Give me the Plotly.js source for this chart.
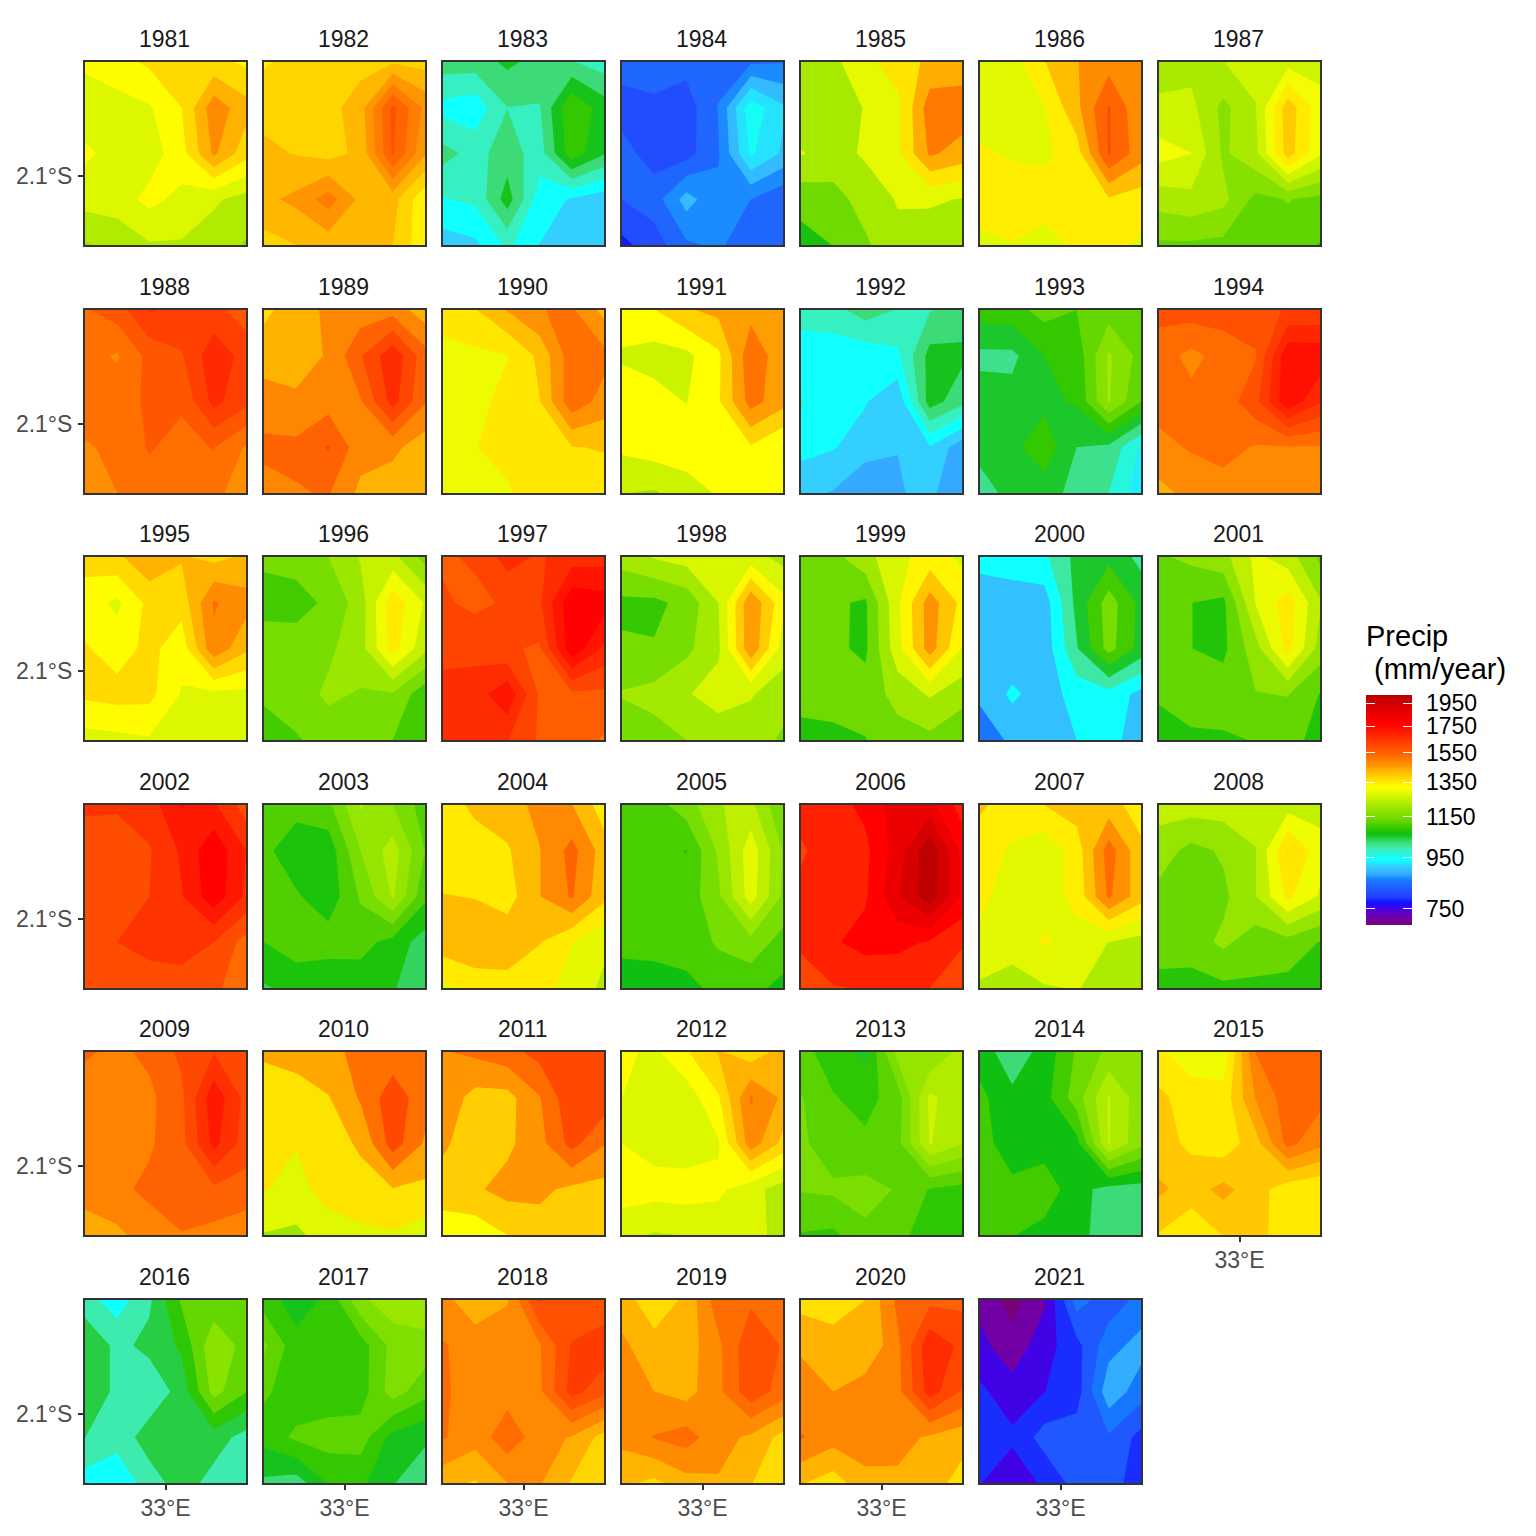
<!DOCTYPE html>
<html><head><meta charset="utf-8">
<script src="https://cdn.plot.ly/plotly-3.0.1.min.js"></script>
<style>html,body{margin:0;padding:0;background:#fff}</style></head>
<body><div id="chart" style="width:1536px;height:1536px"></div>
<script>
const lons=[32.875,32.925,32.975,33.025,33.075,33.125];
const lats=[-1.975,-2.025,-2.075,-2.125,-2.175];
const years=[1981,1982,1983,1984,1985,1986,1987,1988,1989,1990,1991,1992,1993,1994,1995,1996,1997,1998,1999,2000,2001,2002,2003,2004,2005,2006,2007,2008,2009,2010,2011,2012,2013,2014,2015,2016,2017,2018,2019,2020,2021];
// lowest contour level and contour step of each panel (mm/year)
const levelStart=[1150,1280,897.5,760,1030.5,1182.5,1057.5,1395,1395,1272,1157.5,827.5,910,1355,1200,1025,1472.5,1060,1042.5,775,992.5,1440,970,1187.5,992.5,1490,1127,997.5,1352.5,1160,1215,1150,997.5,1000,1185.5,882.5,967.5,1305,1294,1275,669.5];
const levelStep=[50,40,35,30,73,65,45,50,60,55,65,35,40,50,50,50,55,60,65,50,55,60,40,65,45,80,62,55,55,80,70,50,35,40,47,45,35,50,52,60,33];
const p1981=[[1310,1330,1360,1375,1365,1340],[1270,1280,1295,1350,1480,1420],[1310,1280,1275,1330,1460,1370],[1270,1275,1315,1285,1258,1230],[1195,1215,1245,1245,1225,1195]];
const p1982=[[1355,1375,1380,1385,1395,1385],[1385,1385,1385,1422,1570,1470],[1410,1398,1385,1410,1565,1445],[1430,1450,1500,1430,1415,1327],[1385,1400,1415,1420,1400,1330]];
const p1983=[[1020,1020,1045,1025,1005,985],[955,945,1002,1000,1105,1055],[1015,990,1020,985,1095,1040],[965,975,1055,950,929,910],[915,925,975,932,910,905]];
const p1984=[[830,848,830,835,845,848],[810,808,805,852,960,915],[830,808,808,848,945,905],[820,835,893,855,850,825],[782,805,845,855,830,825]];
const p1985=[[1190,1232,1303,1360,1410,1425],[1190,1195,1255,1300,1510,1510],[1255,1220,1260,1310,1480,1440],[1130,1150,1205,1255,1262,1245],[1075,1105,1165,1230,1200,1190]];
const p1986=[[1290,1290,1375,1440,1480,1475],[1290,1295,1310,1425,1578,1450],[1320,1305,1300,1345,1578,1470],[1345,1350,1345,1345,1370,1345],[1295,1310,1285,1325,1340,1300]];
const p1987=[[1210,1222,1237,1255,1265,1265],[1250,1250,1180,1235,1400,1300],[1300,1283,1185,1225,1395,1290],[1212,1225,1205,1135,1150,1135],[1140,1140,1135,1130,1125,1100]];
const p1988=[[1540,1570,1650,1630,1610,1570],[1510,1490,1560,1590,1680,1625],[1520,1520,1555,1555,1660,1610],[1490,1505,1550,1525,1548,1490],[1465,1495,1520,1520,1505,1475]];
const p1989=[[1380,1430,1465,1480,1490,1420],[1430,1430,1460,1570,1680,1540],[1480,1465,1490,1510,1660,1520],[1530,1530,1580,1480,1470,1420],[1490,1510,1520,1440,1420,1410]];
const p1990=[[1350,1378,1440,1490,1500,1420],[1310,1315,1325,1395,1525,1510],[1300,1315,1340,1380,1530,1470],[1300,1325,1345,1360,1380,1385],[1280,1300,1320,1355,1360,1360]];
const p1991=[[1320,1350,1410,1435,1460,1450],[1280,1260,1270,1340,1530,1440],[1320,1315,1285,1345,1510,1440],[1300,1320,1325,1340,1345,1285],[1225,1215,1255,1295,1330,1325]];
const p1992=[[985,990,1020,1000,1000,1020],[945,945,945,960,1050,1045],[970,945,935,905,1055,1015],[945,935,915,898,930,875],[905,895,862,895,905,870]];
const p1993=[[1090,1095,1125,1110,1130,1125],[1020,1020,1070,1085,1196,1135],[1050,1045,1060,1075,1194,1110],[1045,1060,1095,1030,1020,945],[1010,1045,1050,1015,990,930]];
const p1994=[[1570,1580,1580,1585,1610,1615],[1530,1490,1525,1550,1745,1740],[1525,1520,1525,1590,1745,1660],[1490,1510,1525,1500,1500,1500],[1440,1470,1480,1480,1480,1480]];
const p1995=[[1370,1390,1440,1405,1385,1410],[1325,1290,1365,1370,1505,1470],[1355,1325,1365,1320,1490,1410],[1360,1370,1365,1295,1285,1285],[1280,1285,1295,1275,1275,1270]];
const p1996=[[1130,1145,1175,1230,1240,1155],[1115,1105,1135,1200,1360,1270],[1140,1150,1165,1205,1345,1240],[1130,1150,1185,1170,1170,1090],[1110,1120,1145,1150,1125,1075]];
const p1997=[[1575,1590,1660,1630,1665,1670],[1590,1570,1590,1630,1790,1775],[1610,1620,1590,1575,1790,1680],[1670,1665,1735,1575,1570,1570],[1660,1665,1640,1575,1565,1520]];
const p1998=[[1210,1245,1265,1270,1265,1220],[1105,1105,1140,1240,1470,1320],[1130,1125,1165,1230,1470,1270],[1185,1200,1235,1265,1245,1205],[1135,1155,1180,1205,1210,1170]];
const p1999=[[1135,1155,1215,1285,1330,1290],[1130,1118,1098,1290,1465,1350],[1130,1120,1095,1280,1465,1300],[1130,1135,1135,1195,1245,1200],[1085,1090,1105,1145,1155,1115]];
const p2000=[[945,950,965,1040,1060,1010],[890,900,900,1040,1150,1060],[890,890,895,1020,1145,1055],[885,935,900,945,955,910],[845,885,895,925,945,895]];
const p2001=[[1150,1170,1195,1280,1240,1145],[1135,1103,1090,1270,1350,1220],[1135,1103,1090,1190,1345,1190],[1115,1135,1130,1155,1160,1100],[1060,1090,1095,1105,1115,1090]];
const p2002=[[1625,1625,1650,1745,1690,1590],[1605,1600,1615,1690,1785,1680],[1590,1590,1620,1675,1780,1670],[1590,1620,1640,1650,1620,1535],[1565,1565,1590,1590,1570,1530]];
const p2003=[[1095,1105,1120,1215,1170,1110],[1100,1065,1065,1170,1230,1130],[1100,1095,1065,1135,1215,1100],[1090,1110,1110,1105,1075,1030],[1045,1065,1055,1065,1055,1010]];
const p2004=[[1345,1400,1420,1465,1450,1345],[1350,1345,1375,1445,1535,1415],[1385,1380,1355,1445,1520,1400],[1420,1425,1425,1385,1320,1265],[1300,1350,1355,1345,1290,1240]];
const p2005=[[1105,1110,1150,1215,1230,1130],[1095,1095,1081,1180,1290,1170],[1095,1095,1100,1165,1285,1165],[1095,1095,1095,1135,1155,1110],[1060,1065,1075,1090,1095,1070]];
const p2006=[[1680,1700,1750,1850,1840,1690],[1640,1690,1710,1850,2030,1790],[1670,1680,1720,1880,2020,1800],[1660,1720,1760,1755,1720,1655],[1620,1645,1655,1655,1650,1620]];
const p2007=[[1385,1345,1375,1405,1400,1345],[1340,1305,1270,1340,1530,1390],[1325,1290,1285,1330,1510,1400],[1300,1285,1320,1290,1250,1225],[1240,1215,1245,1255,1225,1215]];
const p2008=[[1240,1245,1245,1245,1250,1245],[1190,1145,1170,1215,1385,1300],[1145,1135,1150,1215,1340,1265],[1125,1135,1175,1130,1140,1105],[1095,1085,1095,1100,1090,1075]];
const p2009=[[1525,1505,1530,1585,1625,1610],[1490,1490,1505,1560,1720,1610],[1490,1490,1510,1555,1700,1600],[1480,1505,1530,1545,1560,1550],[1440,1450,1490,1515,1500,1480]];
const p2010=[[1410,1430,1470,1490,1510,1510],[1365,1365,1395,1490,1610,1510],[1350,1325,1370,1410,1600,1470],[1325,1290,1355,1375,1395,1380],[1235,1225,1275,1300,1310,1275]];
const p2011=[[1490,1510,1540,1590,1590,1590],[1470,1400,1400,1490,1620,1610],[1440,1375,1410,1470,1590,1500],[1385,1415,1450,1440,1410,1400],[1320,1310,1355,1395,1385,1380]];
const p2012=[[1310,1290,1345,1405,1370,1420],[1300,1275,1270,1345,1505,1440],[1300,1280,1270,1295,1480,1385],[1325,1320,1325,1310,1270,1225],[1265,1245,1252,1270,1260,1240]];
const p2013=[[1115,1085,1060,1185,1175,1220],[1140,1105,1090,1120,1250,1220],[1145,1115,1110,1125,1245,1210],[1140,1145,1150,1135,1100,1090],[1100,1095,1130,1110,1090,1065]];
const p2014=[[1062,1015,1055,1125,1170,1170],[1090,1050,1065,1140,1243,1175],[1095,1060,1060,1065,1243,1170],[1090,1090,1105,1055,1025,1020],[1085,1082,1065,1050,1025,1020]];
const p2015=[[1335,1300,1295,1515,1540,1540],[1385,1350,1345,1470,1540,1530],[1390,1365,1345,1400,1530,1480],[1430,1400,1435,1395,1345,1330],[1370,1335,1375,1395,1340,1345]];
const p2016=[[990,950,1010,1115,1120,1125],[1060,1005,1030,1070,1190,1135],[1060,1005,985,1035,1170,1110],[1018,990,1040,1040,1040,1000],[950,940,995,1040,1000,990]];
const p2017=[[1090,1055,1080,1170,1200,1200],[1150,1085,1085,1090,1155,1165],[1115,1085,1085,1090,1160,1120],[1085,1115,1125,1125,1060,1045],[1030,1020,1075,1080,1040,1010]];
const p2018=[[1470,1425,1450,1610,1565,1565],[1510,1480,1490,1500,1610,1640],[1510,1490,1485,1495,1625,1570],[1510,1475,1535,1480,1450,1385],[1420,1400,1455,1460,1400,1370]];
const p2019=[[1425,1360,1410,1535,1545,1545],[1460,1420,1425,1490,1595,1550],[1470,1450,1430,1490,1590,1530],[1465,1505,1525,1470,1440,1380],[1410,1385,1430,1445,1400,1365]];
const p2020=[[1370,1360,1395,1530,1560,1560],[1450,1425,1400,1500,1680,1620],[1470,1455,1490,1495,1665,1570],[1520,1480,1490,1480,1445,1420],[1400,1365,1435,1440,1425,1370]];
const p2021=[[725,690,730,850,815,845],[745,715,755,790,855,880],[775,750,768,785,890,850],[780,775,815,820,830,790],[770,745,775,815,815,785]];
const panels=[p1981,p1982,p1983,p1984,p1985,p1986,p1987,p1988,p1989,p1990,p1991,p1992,p1993,p1994,p1995,p1996,p1997,p1998,p1999,p2000,p2001,p2002,p2003,p2004,p2005,p2006,p2007,p2008,p2009,p2010,p2011,p2012,p2013,p2014,p2015,p2016,p2017,p2018,p2019,p2020,p2021];

const paletteValues=[696,725,748,772,795,835,860,880,915,940,950,990,1020,1060,1090,1110,1150,1205,1280,1320,1380,1425,1460,1495,1520,1560,1620,1670,1730,1777,1870,1950,2024];
const paletteColors=['7a0078','7000b0','4b00e0','1010ff','2244ff','1f66ff','1480ff','33aaff','33d0ff','10ffff','10ffff','3ceeb8','3ddb78','10c010','33c800','50d000','78dd00','a0e800','e0f800','ffff00','ffd500','ffb300','ff9500','ff8000','ff7000','ff5a00','ff4000','ff2a00','ff1000','ff0000','e80000','d00000','b80000'];
const legendTicks=[750,950,1150,1350,1550,1750,1950];
const legendLow=696, legendHigh=2024;

function rgb(h){return [0,2,4].map(i=>parseInt(h.substr(i,2),16));}
function pal(v){
  if(v<=paletteValues[0]) return 'rgb('+rgb(paletteColors[0])+')';
  for(let i=1;i<paletteValues.length;i++){
    if(v<=paletteValues[i]){
      const t=(v-paletteValues[i-1])/(paletteValues[i]-paletteValues[i-1]);
      const a=rgb(paletteColors[i-1]),b=rgb(paletteColors[i]);
      return 'rgb('+a.map((c,k)=>Math.round(c+(b[k]-c)*t))+')';
    }
  }
  return 'rgb('+rgb(paletteColors[paletteColors.length-1])+')';
}
const S=1536, colLeft=85, colPitch=179, panelW=161, rowTop=62, rowPitch=247.6, panelH=183, ncol=7;
const FONT='"Liberation Sans", Arial, sans-serif';
const traces=[], layout={width:S,height:S,margin:{l:0,r:0,t:0,b:0},paper_bgcolor:'#fff',plot_bgcolor:'#fff',showlegend:false,annotations:[]};
years.forEach((yr,i)=>{
  const c=i%ncol, r=Math.floor(i/ncol), n=i+1, sfx=n===1?'':n;
  const L=colLeft+c*colPitch, T=Math.round(rowTop+r*rowPitch);
  const start=levelStart[i], size=levelStep[i];
  const nc=Math.ceil((2200-start)/size), end=start+(nc-1)*size;
  const scale=[];
  for(let k=0;k<=nc;k++) scale.push([k/nc,pal(start+(k-0.5)*size)]);
  traces.push({type:'contour',x:lons,y:lats,z:panels[i],xaxis:'x'+sfx,yaxis:'y'+sfx,autocontour:false,
    contours:{coloring:'fill',showlines:false,start:start,end:end,size:size},
    line:{width:0,smoothing:0},colorscale:scale,showscale:false,hoverinfo:'skip'});
  const bottom=(r===5)||(r===4&&c===6), left=c===0;
  layout['xaxis'+sfx]={domain:[L/S,(L+panelW)/S],anchor:'y'+sfx,range:[lons[0],lons[5]],
    tickmode:'array',tickvals:bottom?[33]:[],ticktext:bottom?['33°E']:[],ticks:bottom?'outside':'',ticklen:5,tickwidth:2,tickcolor:'#333',ticklabelstandoff:-2,
    tickfont:{family:FONT,size:23,color:'#4d4d4d'},showgrid:false,zeroline:false,showline:true,mirror:true,linecolor:'#333',linewidth:2};
  layout['yaxis'+sfx]={domain:[1-(T+panelH)/S,1-T/S],anchor:'x'+sfx,range:[lats[4],lats[0]],
    tickmode:'array',tickvals:left?[-2.1]:[],ticktext:left?['2.1°S']:[],ticks:left?'outside':'',ticklen:5,tickwidth:2,tickcolor:'#333',ticklabelstandoff:1,
    tickfont:{family:FONT,size:23,color:'#4d4d4d'},showgrid:false,zeroline:false,showline:true,mirror:true,linecolor:'#333',linewidth:2};
  layout.annotations.push({xref:'paper',yref:'paper',x:(L+panelW/2-1)/S,y:1-(T-23)/S,text:String(yr),showarrow:false,xanchor:'center',yanchor:'middle',
    font:{family:FONT,size:23,color:'#1a1a1a'}});
});
// colour key: a log-spaced ramp drawn on its own axes
const ramp=[];
for(let k=0;k<230;k++) ramp.push(Math.log10(legendLow)+(k+0.5)/230*(Math.log10(legendHigh)-Math.log10(legendLow)));
const rampZ=ramp.map(v=>[Math.pow(10,v)]);
const rampScale=paletteValues.map((v,i)=>[(v-legendLow)/(legendHigh-legendLow),'#'+paletteColors[i]]);
const keyRange=[Math.log10(legendLow),Math.log10(legendHigh)];
const keyTickVals=legendTicks.map(v=>Math.log10(v));
const keyTickText=legendTicks.map(String);
['y42','y43'].forEach(ya=>traces.push({type:'heatmap',x:[0],y:ramp,z:rampZ,xaxis:'x42',yaxis:ya,zmin:legendLow,zmax:legendHigh,colorscale:rampScale,showscale:false,hoverinfo:'skip'}));
layout.xaxis42={domain:[1366/S,1412/S],anchor:'y42',range:[-0.5,0.5],visible:false,fixedrange:true};
layout.yaxis42={domain:[1-925/S,1-695/S],anchor:'x42',side:'right',range:keyRange,tickmode:'array',tickvals:keyTickVals,ticktext:keyTickText,
  ticks:'inside',ticklen:9,tickwidth:1,tickcolor:'#fff',ticklabelstandoff:13,tickfont:{family:FONT,size:23,color:'#000'},showgrid:false,zeroline:false,showline:false};
layout.yaxis43={domain:[1-925/S,1-695/S],anchor:'x42',overlaying:'y42',side:'left',range:keyRange,tickmode:'array',tickvals:keyTickVals,ticktext:keyTickVals.map(()=>''),
  ticks:'inside',ticklen:9,tickwidth:1,tickcolor:'#fff',showgrid:false,zeroline:false,showline:false};
layout.annotations.push({xref:'paper',yref:'paper',x:1364/S,y:1-636.5/S,text:'Precip',showarrow:false,xanchor:'left',yanchor:'middle',font:{family:FONT,size:29,color:'#000'}});
layout.annotations.push({xref:'paper',yref:'paper',x:1364/S,y:1-668.5/S,text:'\u00a0(mm/year)',showarrow:false,xanchor:'left',yanchor:'middle',font:{family:FONT,size:29,color:'#000'}});
Plotly.newPlot('chart',traces,layout,{displayModeBar:false,staticPlot:true});
</script></body></html>
